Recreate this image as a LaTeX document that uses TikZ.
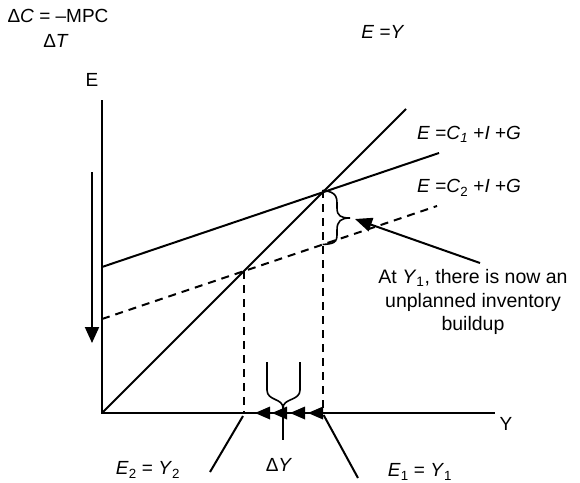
\documentclass[tikz,border=0pt]{standalone}
\usepackage{fontspec}
\setmainfont{Liberation Sans}
\usetikzlibrary{arrows.meta}
\tikzset{
  curve/.style={line width=2pt},
  guide/.style={line width=2pt, dash pattern=on 8pt off 6pt},
  lab/.style={inner sep=0pt, font=\fontsize{19}{23}\selectfont},
  bigtip/.style={-{Triangle[length=16pt,width=14pt]}}
}
\begin{document}
\begin{tikzpicture}[x=1pt,y=-1pt]
	  \useasboundingbox (0,0) rectangle (580,482);
	  
	  \coordinate (O) at (102,413);
	  \coordinate (Etop) at (102,100);
	  \coordinate (Yend) at (495,413);
	  \coordinate (Ztop) at (406,109);
	  \coordinate (C1a) at (102,267);
	  \coordinate (C1b) at (439,153);
	  \coordinate (C2a) at (102,319);
	  \coordinate (C2b) at (437,206);
	  \coordinate (Y1) at (322.6,190.4);
	  \coordinate (Y2) at (244,271);
	  \coordinate (Y1b) at (322.6,244.4);
	  \coordinate (Y1x) at (322.6,413);
	  \coordinate (Y2x) at (244,413);
	  
	  \node[lab] (mpc) at (58,16) {Δ\textit{C} = –MPC};
	  \node[lab] (dt) at (56,41) {Δ\textit{T}};
	  \node[lab] (eqy) at (383,32) {\textit{E} =\textit{Y}};
	  \node[lab] (Elab) at (92,80) {E};
	  \node[lab] (Ylab) at (506,424) {Y};
	  \node[lab, anchor=west] (c1lab) at (417,134) {\textit{E} =\textit{C}\textsubscript{\textit{1}} +\textit{I} +\textit{G}};
	  \node[lab, anchor=west] (c2lab) at (417,188) {\textit{E} =\textit{C}\textsubscript{2} +\textit{I} +\textit{G}};
	  \node[lab, align=center, font=\fontsize{19.5}{23.5}\selectfont] (note) at (473,302)
	    {At \textit{Y}\textsubscript{1}, there is now an\\unplanned inventory\\buildup};
	  \node[lab] (e2lab) at (148,470) {\textit{E}\textsubscript{2} = \textit{Y}\textsubscript{2}};
	  \node[lab] (dylab) at (279,465) {Δ\textit{Y}};
	  \node[lab] (e1lab) at (420,472) {\textit{E}\textsubscript{1} = \textit{Y}\textsubscript{1}};
	  
	  % axes
	  \draw[curve] (Etop) -- (O) -- (Yend);
	  % lines
	  \draw[curve] (O) -- (Ztop);
	  \draw[curve] (C1a) -- (C1b);
	  \draw[guide] (C2a) -- (C2b);
	  \draw[guide] (Y1) -- (Y1x);
	  \draw[guide] (Y2) -- (Y2x);
	  
	  % shift down
	  \draw[curve, bigtip] (92,172) -- (92,343);
	  
	  % gap brace and pointer
	  \draw[line width=1.6pt] (Y1) .. controls (338,192) and (337,198) .. (337,208)
	    .. controls (337,216) and (341,218) .. (350,218)
	    .. controls (341,218) and (337,221) .. (337,230)
	    .. controls (337,240) and (338,244) .. (Y1b);
	  \draw[curve, -{Triangle[length=17pt,width=14pt]}] (480,263) -- (355,219);
	  
	  % change in income
	  \foreach \t in {255,272,290,308}
	    \fill (\t,413) -- ++(15,-6.5) -- ++(0,13) -- cycle;
	  \draw[line width=1.6pt] (267,362) -- (267,390) .. controls (267,401) and (283,398) .. (283,408);
	  \draw[line width=1.6pt] (300,362) -- (300,390) .. controls (300,401) and (283,398) .. (283,408);
	  \draw[line width=2.5pt] (283,405) -- (283,440);
	  
	  % pointers
	  \draw[curve] (Y2x) ++(-1,3) -- (210,472);
	  \draw[curve] (Y1x) ++(1,2) -- (358,478);
	\end{tikzpicture}
\end{document}
